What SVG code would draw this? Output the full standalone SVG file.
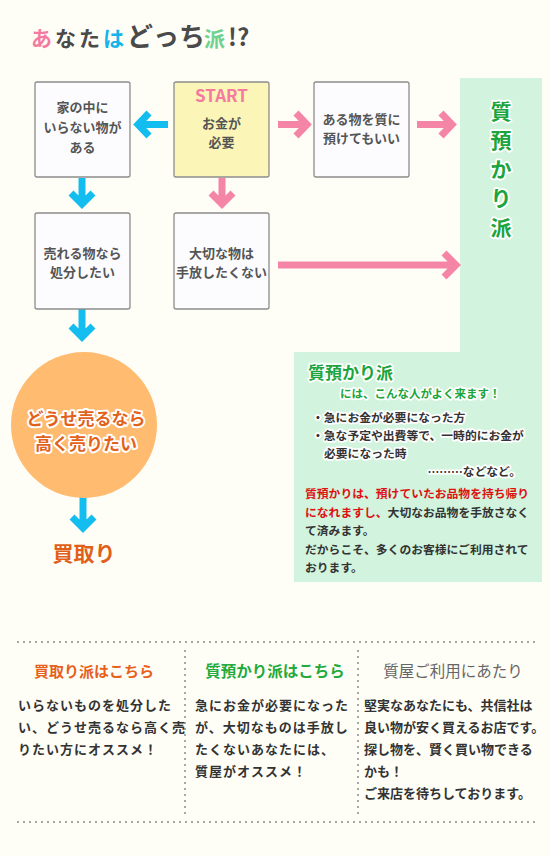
<svg xmlns="http://www.w3.org/2000/svg" width="550" height="856" viewBox="0 0 550 856">
<style>
text{font-family:"Noto Sans CJK JP","Noto Sans",sans-serif;}
.box{fill:#fcfcff;stroke:#8c8c8c;stroke-width:1.3;}
.bt{font-size:13px;font-weight:700;fill:#555;text-anchor:middle;}
.blue{fill:none;stroke:#14bdf0;stroke-width:7;stroke-linejoin:miter;}
.pink{fill:none;stroke:#f585a6;stroke-width:7;stroke-linejoin:miter;}
.halo{stroke:#fff;stroke-width:3.5;stroke-linejoin:round;paint-order:stroke;}
.pt{font-size:11.8px;font-weight:700;fill:#333;}
.red{fill:#dd1111;}
.dot{stroke:#8a8a8a;stroke-width:2;stroke-linecap:round;stroke-dasharray:0 6;fill:none;}
.body{font-size:13px;font-weight:700;fill:#333;}
.vt{font-size:21px;font-weight:700;fill:#1ba53c;text-anchor:middle;}
</style>
<rect width="550" height="856" fill="#fefef7"/>

<g id="title">
<text y="46" font-weight="700" fill="#4a4a4a"><tspan x="31" font-size="21" letter-spacing="3" fill="#f57aa0">あ</tspan><tspan font-size="21" letter-spacing="3">なた</tspan><tspan x="103" font-size="21" fill="#16b4ea">は</tspan><tspan x="127" font-size="26">どっち</tspan><tspan x="204" font-size="21" fill="#6fd18f">派</tspan><tspan x="228" font-size="24">!?</tspan></text>
</g>

<g id="panel">
<path d="M460 78 H542 V582 H294 V352 H460 Z" fill="#d2f3dd"/>
</g>

<g id="connectors">
<path class="blue" d="M168 124.5 H142 M149 113 L138 124.5 L149 136"/>
<path class="pink" d="M278 124.5 H303 M296 113 L307 124.5 L296 136"/>
<path class="pink" d="M417 124.5 H448 M441 113 L452 124.5 L441 136"/>
<path class="blue" d="M82 178 V201 M71 193 L82 204 L93 193"/>
<path class="pink" d="M222 178 V201 M211 193 L222 204 L233 193"/>
<path class="blue" d="M82 306 V334 M71 326 L82 337 L93 326"/>
<path class="pink" d="M278 265 H452 M444 253 L456 265 L444 277"/>
<path class="blue" d="M83 496 V525 M72 517 L83 528 L94 517"/>
</g>

<g id="node-home">
<rect class="box" x="35" y="82" width="95" height="95" rx="2"/>
<text class="bt"><tspan x="82.5" y="112">家の中に</tspan><tspan x="82.5" y="132">いらない物が</tspan><tspan x="82.5" y="152">ある</tspan></text>
</g>

<g id="node-start">
<rect x="174" y="82" width="95" height="95" rx="2" fill="#fcf5b8" stroke="#8c8c8c" stroke-width="1.3"/>
<text x="221.5" y="102" text-anchor="middle" font-size="17" font-weight="700" fill="#f57aa0" font-family="Liberation Sans, Arial, sans-serif">START</text>
<text class="bt"><tspan x="221.5" y="128">お金が</tspan><tspan x="221.5" y="147">必要</tspan></text>
</g>

<g id="node-deposit">
<rect class="box" x="314" y="82" width="95" height="95" rx="2"/>
<text class="bt"><tspan x="361.5" y="124">ある物を質に</tspan><tspan x="361.5" y="143">預けてもいい</tspan></text>
</g>

<g id="node-sell">
<rect class="box" x="35" y="213" width="95" height="96" rx="2"/>
<text class="bt"><tspan x="82.5" y="258">売れる物なら</tspan><tspan x="82.5" y="277">処分したい</tspan></text>
</g>

<g id="node-keep">
<rect class="box" x="174" y="213" width="95" height="96" rx="2"/>
<text class="bt"><tspan x="221.5" y="258">大切な物は</tspan><tspan x="221.5" y="277">手放したくない</tspan></text>
</g>

<g id="node-shichi">
<text class="vt halo" x="501" y="119">質</text>
<text class="vt halo" x="501" y="148">預</text>
<text class="vt halo" x="501" y="177">か</text>
<text class="vt halo" x="501" y="206">り</text>
<text class="vt halo" x="501" y="235">派</text>
</g>

<g id="node-circle">
<circle cx="84" cy="425" r="73" fill="#ffbb70"/>
<text text-anchor="middle" font-size="17" font-weight="700" fill="#e2621c" stroke="#fff" stroke-width="4" stroke-linejoin="round" paint-order="stroke"><tspan x="86" y="425">どうせ売るなら</tspan><tspan x="86" y="450">高く売りたい</tspan></text>
</g>

<g id="node-kaitori">
<text x="84" y="561" text-anchor="middle" font-size="21" font-weight="700" fill="#e0601a">買取り</text>
</g>

<g id="panel-text">
<text x="308" y="379" font-size="17" font-weight="700" fill="#1ba53c" class="halo">質預かり派</text>
<text x="340" y="398" font-size="11.5" font-weight="700" fill="#1ba53c" class="halo">には、こんな人がよく来ます！</text>
<text class="pt halo" x="312" y="422">・急にお金が必要になった方</text>
<text class="pt halo" x="312" y="440">・急な予定や出費等で、一時的にお金が</text>
<text class="pt halo" x="324" y="458">必要になった時</text>
<text class="pt halo" x="521" y="476" text-anchor="end">………などなど。</text>
<text class="pt" x="305" y="498"><tspan class="red">質預かりは、預けていたお品物を持ち帰り</tspan></text>
<text class="pt" x="305" y="517"><tspan class="red">になれますし、</tspan>大切なお品物を手放さなく</text>
<text class="pt" x="305" y="535">て済みます。</text>
<text class="pt" x="305" y="554">だからこそ、多くのお客様にご利用されて</text>
<text class="pt" x="305" y="572">おります。</text>
</g>

<g id="footer">
<line class="dot" x1="18" y1="642" x2="536" y2="642"/>
<line class="dot" x1="18" y1="822" x2="536" y2="822"/>
<line class="dot" x1="185" y1="651" x2="185" y2="815"/>
<line class="dot" x1="358" y1="651" x2="358" y2="815"/>
</g>

<g id="col-kaitori">
<text x="94" y="677" text-anchor="middle" font-size="15" font-weight="700" fill="#e8601a">買取り派はこちら</text>
<text class="body" letter-spacing="1"><tspan x="18" y="710">いらないものを処分した</tspan><tspan x="18" y="732">い、どうせ売るなら高く売</tspan><tspan x="18" y="754">りたい方にオススメ！</tspan></text>
</g>

<g id="col-shichi">
<text x="275" y="677" text-anchor="middle" font-size="15.5" font-weight="700" fill="#22aa3c">質預かり派はこちら</text>
<text class="body" letter-spacing="1"><tspan x="195" y="710">急にお金が必要になった</tspan><tspan x="195" y="732">が、大切なものは手放し</tspan><tspan x="195" y="754">たくないあなたには、</tspan><tspan x="195" y="776">質屋がオススメ！</tspan></text>
</g>

<g id="col-riyou">
<text x="453" y="677" text-anchor="middle" font-size="15.5" fill="#666">質屋ご利用にあたり</text>
<text class="body"><tspan x="364" y="710">堅実なあなたにも、共信社は</tspan><tspan x="364" y="732">良い物が安く買えるお店です。</tspan><tspan x="364" y="754">探し物を、賢く買い物できる</tspan><tspan x="364" y="776">かも！</tspan><tspan x="364" y="798">ご来店を待ちしております。</tspan></text>
</g>
</svg>
